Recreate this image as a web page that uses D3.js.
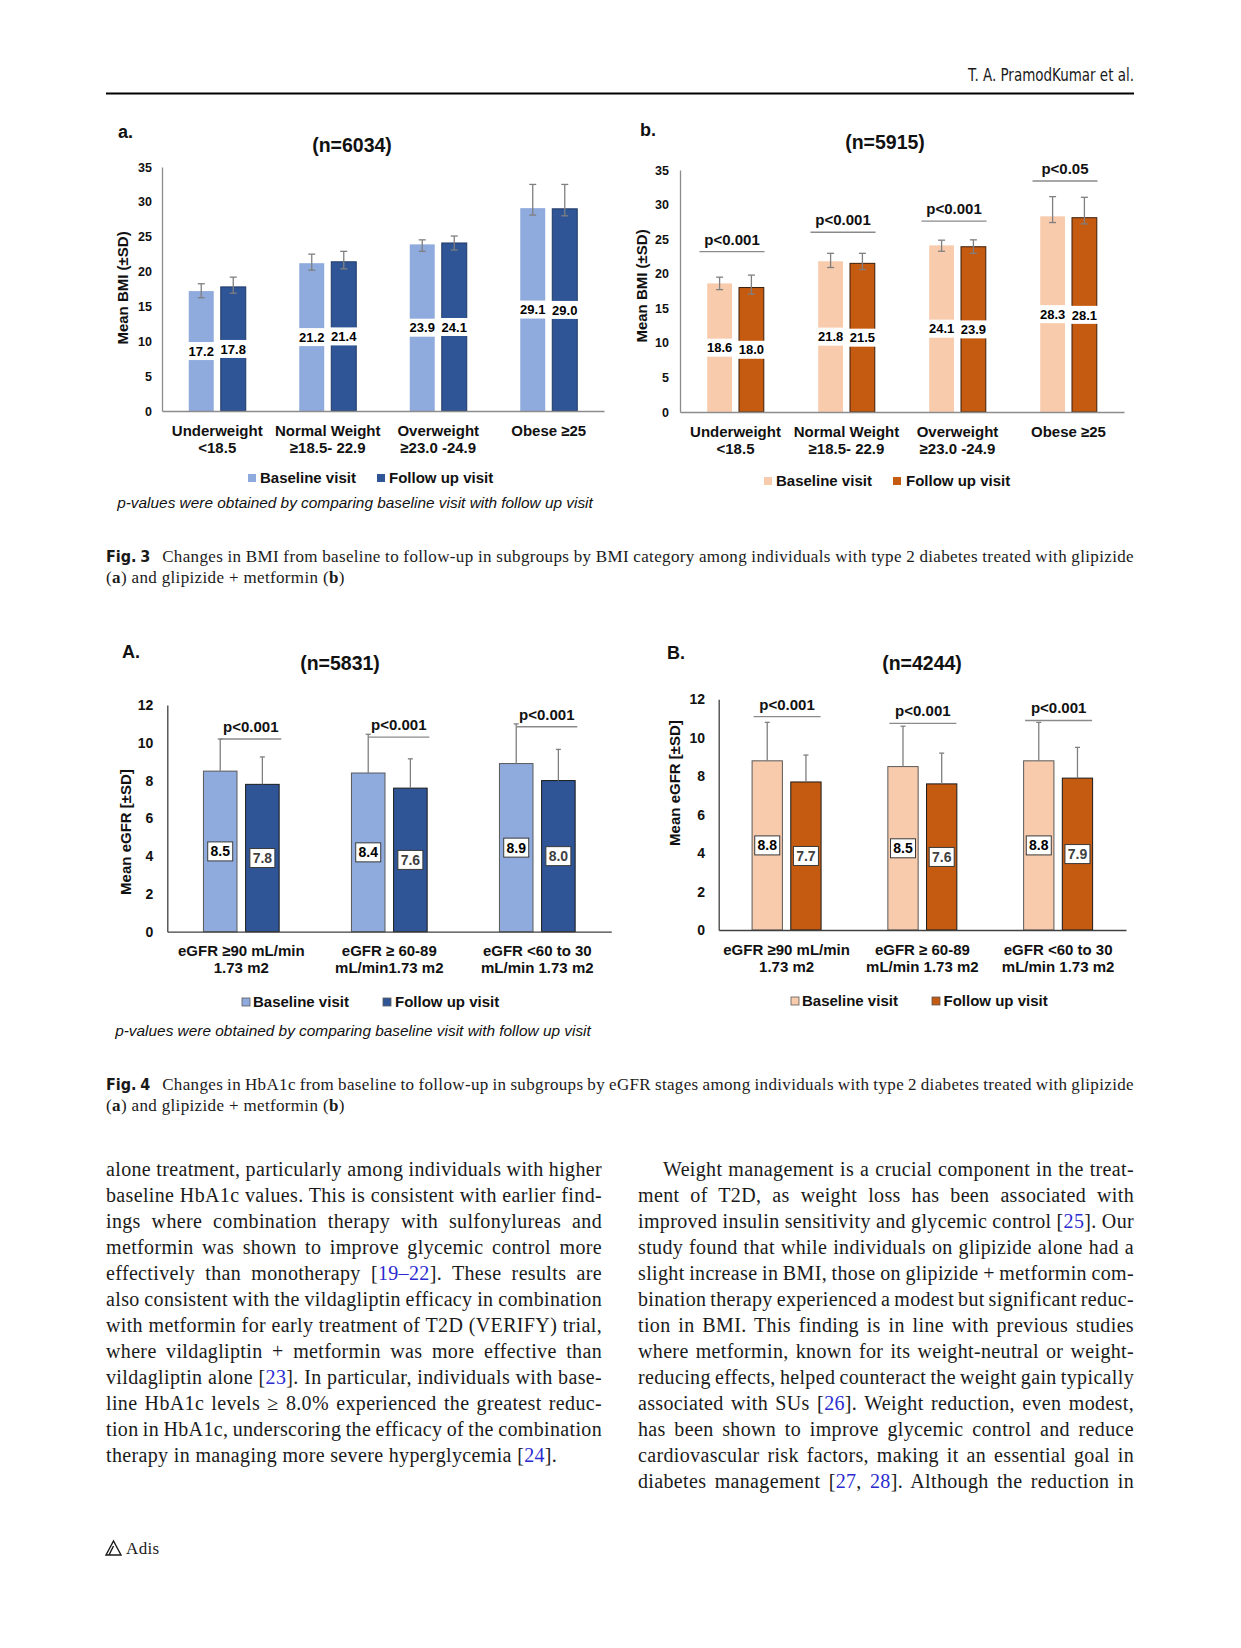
<!DOCTYPE html>
<html>
<head>
<meta charset="utf-8">
<script src="https://cdnjs.cloudflare.com/ajax/libs/d3/7.8.5/d3.min.js"></script>
<style>
  body { margin: 0; background: #fff; }
  #page { position: relative; width: 1241px; height: 1648px; overflow: hidden; background: #fff; }
  #page svg { position: absolute; left: 0; top: 0; }
  .line { position: absolute; white-space: nowrap; font-family: "Liberation Serif", "Times New Roman", serif; color: #1a1a1a; }
  .body { font-size: 20px; line-height: 26px; letter-spacing: 0.35px; }
  .cap { font-size: 17px; line-height: 21px; letter-spacing: 0.35px; }
  .cite { color: #2b2bd0; }
  .fig { font-family: "Liberation Sans Narrow", "DejaVu Sans Condensed", sans-serif; font-weight: bold; font-size: 16px; margin-right: 12px; letter-spacing: 0; }
</style>
</head>
<body>
<div id="page"></div>
<script>
// ---------- Fig. 3 : BMI by BMI category ----------
const bmiCats = [["Underweight", "<18.5"], ["Normal Weight", "≥18.5- 22.9"], ["Overweight", "≥23.0 -24.9"], ["Obese ≥25"]];
const bmiTicks = [0, 5, 10, 15, 20, 25, 30, 35];

// (a) glipizide
const bmiGlipBase = [17.2, 21.2, 23.9, 29.1];
const bmiGlipFollow = [17.8, 21.4, 24.1, 29.0];
const bmiGlipBaseUp = [1.05, 1.3, 0.65, 3.4];
const bmiGlipBaseDown = [0.95, 1.0, 1.0, 1.0];
const bmiGlipFollowUp = [1.4, 1.5, 1.0, 3.5];
const bmiGlipFollowDown = [0.9, 1.0, 1.0, 1.0];

// (b) glipizide + metformin
const bmiCombBase = [18.6, 21.8, 24.1, 28.3];
const bmiCombFollow = [18.0, 21.5, 23.9, 28.1];
const bmiCombBaseUp = [0.9, 1.15, 0.75, 2.85];
const bmiCombBaseDown = [0.9, 0.9, 0.85, 0.9];
const bmiCombFollowUp = [1.8, 1.45, 1.0, 2.95];
const bmiCombFollowDown = [0.95, 0.9, 0.95, 0.9];
const bmiCombP = ["p<0.001", "p<0.001", "p<0.001", "p<0.05"];
const bmiCombPLevel = [23.2, 26.0, 27.6, 33.4];

// ---------- Fig. 4 : HbA1c by eGFR stage ----------
const egfrCatsA = [["eGFR ≥90 mL/min", "1.73 m2"], ["eGFR ≥ 60-89", "mL/min1.73 m2"], ["eGFR <60 to 30", "mL/min 1.73 m2"]];
const egfrCatsB = [["eGFR ≥90 mL/min", "1.73 m2"], ["eGFR ≥ 60-89", "mL/min 1.73 m2"], ["eGFR <60 to 30", "mL/min 1.73 m2"]];
const egfrTicks = [0, 2, 4, 6, 8, 10, 12];

// (A) glipizide
const egfrGlipBase = [8.5, 8.4, 8.9];
const egfrGlipFollow = [7.8, 7.6, 8.0];
const egfrGlipBaseSd = [1.7, 2.05, 2.1];
const egfrGlipFollowSd = [1.45, 1.55, 1.65];
const egfrGlipP = ["p<0.001", "p<0.001", "p<0.001"];
const egfrGlipPLevel = [10.2, 10.3, 10.85];

// (B) glipizide + metformin
const egfrCombBase = [8.8, 8.5, 8.8];
const egfrCombFollow = [7.7, 7.6, 7.9];
const egfrCombBaseSd = [2.0, 2.1, 2.0];
const egfrCombFollowSd = [1.4, 1.6, 1.6];
const egfrCombP = ["p<0.001", "p<0.001", "p<0.001"];
const egfrCombPLevel = [11.1, 10.75, 10.9];

const seriesNames = ["Baseline visit", "Follow up visit"];
const noteText = "p-values were obtained by comparing baseline visit with follow up visit";

// body text
const leftLines = [
  "alone treatment, particularly among individuals with higher",
  "baseline HbA1c values. This is consistent with earlier find-",
  "ings where combination therapy with sulfonylureas and",
  "metformin was shown to improve glycemic control more",
  "effectively than monotherapy [{19–22}]. These results are",
  "also consistent with the vildagliptin efficacy in combination",
  "with metformin for early treatment of T2D (VERIFY) trial,",
  "where vildagliptin + metformin was more effective than",
  "vildagliptin alone [{23}]. In particular, individuals with base-",
  "line HbA1c levels ≥ 8.0% experienced the greatest reduc-",
  "tion in HbA1c, underscoring the efficacy of the combination",
  "therapy in managing more severe hyperglycemia [{24}]."
];
const rightLines = [
  "Weight management is a crucial component in the treat-",
  "ment of T2D, as weight loss has been associated with",
  "improved insulin sensitivity and glycemic control [{25}]. Our",
  "study found that while individuals on glipizide alone had a",
  "slight increase in BMI, those on glipizide + metformin com-",
  "bination therapy experienced a modest but significant reduc-",
  "tion in BMI. This finding is in line with previous studies",
  "where metformin, known for its weight-neutral or weight-",
  "reducing effects, helped counteract the weight gain typically",
  "associated with SUs [{26}]. Weight reduction, even modest,",
  "has been shown to improve glycemic control and reduce",
  "cardiovascular risk factors, making it an essential goal in",
  "diabetes management [{27}, {28}]. Although the reduction in"
];

const W = 1241, H = 1648;
const FONT = "'Liberation Sans', Arial, Helvetica, sans-serif";

const page = d3.select("#page");
const svg = page.append("svg").attr("width", W).attr("height", H);

function drawChart(c) {
  const g = svg.append("g").attr("font-family", FONT);
  const x = d3.scaleBand().domain(d3.range(c.cats.length)).range([c.x0, c.x1]);
  const y = d3.scaleLinear().domain([0, c.yMax]).range([c.y0, c.yTop]);
  const sub = d3.scaleBand().domain([0, 1]).range([-c.groupW / 2, c.groupW / 2]).paddingInner(c.padInner);
  const cx = i => x(i) + x.bandwidth() / 2;
  const bw = sub.bandwidth();

  const series = [
    { k: 0, vals: c.base, up: c.baseUp, down: c.baseDown },
    { k: 1, vals: c.follow, up: c.followUp, down: c.followDown }
  ];

  // bars
  series.forEach(s => {
    g.selectAll(null).data(s.vals).join("rect")
      .attr("x", (d, i) => cx(i) + sub(s.k))
      .attr("y", d => y(d))
      .attr("width", bw)
      .attr("height", d => y(0) - y(d))
      .attr("fill", c.colors[s.k])
      .attr("stroke", c.strokes[s.k] || "none")
      .attr("stroke-width", 1);
  });

  // error bars
  series.forEach(s => {
    s.vals.forEach((v, i) => {
      const xm = cx(i) + sub(s.k) + bw / 2;
      const top = y(v + s.up[i]);
      const dn = s.down ? s.down[i] : 0;
      const bot = y(v - dn);
      g.append("line").attr("x1", xm).attr("x2", xm).attr("y1", top).attr("y2", bot)
        .attr("stroke", "#7f7f7f").attr("stroke-width", 1.3);
      g.append("line").attr("x1", xm - c.capW / 2).attr("x2", xm + c.capW / 2).attr("y1", top).attr("y2", top)
        .attr("stroke", "#7f7f7f").attr("stroke-width", 1.3);
      if (dn > 0) {
        g.append("line").attr("x1", xm - c.capW / 2).attr("x2", xm + c.capW / 2).attr("y1", bot).attr("y2", bot)
          .attr("stroke", "#7f7f7f").attr("stroke-width", 1.3);
      }
    });
  });

  // value labels in the middle of each bar
  series.forEach(s => {
    s.vals.forEach((v, i) => {
      const xm = cx(i) + sub(s.k) + bw / 2;
      const ym = y(v / 2);
      if (c.labelStyle === "gap") {
        g.append("rect").attr("x", xm - bw / 2 - 2).attr("y", ym - 9).attr("width", bw + 4).attr("height", 18)
          .attr("fill", "#fff");
      } else {
        g.append("rect").attr("x", xm - 12.5).attr("y", ym - 9.5).attr("width", 25).attr("height", 19)
          .attr("fill", "#fff").attr("stroke", "#3a3a3a").attr("stroke-width", 1);
      }
      g.append("text").attr("x", xm).attr("y", ym).attr("dy", "0.36em")
        .attr("text-anchor", "middle").attr("font-weight", "bold").attr("font-size", c.labelFont)
        .attr("fill", c.labelColors[s.k]).text(v.toFixed(1));
    });
  });

  // p-value brackets
  if (c.pLabels) {
    c.pLabels.forEach((p, i) => {
      const ly = y(c.pLevels[i]);
      const xa = cx(i) + c.pSpan[0], xb = cx(i) + c.pSpan[1];
      g.append("line").attr("x1", xa).attr("x2", xb).attr("y1", ly).attr("y2", ly)
        .attr("stroke", "#8a8a8a").attr("stroke-width", 1.4);
      g.append("text").attr("x", (xa + xb) / 2).attr("y", ly - 7)
        .attr("text-anchor", "middle").attr("font-weight", "bold").attr("font-size", 15)
        .attr("fill", "#111").text(p);
    });
  }

  // axes
  const ya = g.append("g").attr("transform", `translate(${c.x0},0)`)
    .call(d3.axisLeft(y).tickValues(c.ticks).tickSize(0).tickPadding(c.tickPad));
  ya.attr("font-family", FONT).attr("font-size", c.tickFont).attr("font-weight", "bold");
  ya.select(".domain").attr("stroke", c.axisColor).attr("stroke-width", 1.3);
  ya.selectAll("text").attr("fill", "#111");

  const xa = g.append("g").attr("transform", `translate(0,${c.y0})`)
    .call(d3.axisBottom(x).tickSize(0).tickFormat(() => ""));
  xa.select(".domain").attr("stroke", c.axisColor).attr("stroke-width", 1.3);

  // category labels
  c.cats.forEach((lines, i) => {
    const t = g.append("text").attr("text-anchor", "middle").attr("font-weight", "bold")
      .attr("font-size", c.xFont).attr("fill", "#111");
    lines.forEach((ln, j) => {
      t.append("tspan").attr("x", cx(i)).attr("y", c.y0 + 24.5 + 17 * j).text(ln);
    });
  });

  // y title
  g.append("text").attr("transform", `translate(${c.yTitle.x},${c.yTitle.y}) rotate(-90)`)
    .attr("dy", "0.35em").attr("text-anchor", "middle").attr("font-weight", "bold")
    .attr("font-size", c.yTitle.size).attr("fill", "#111").text(c.yTitle.t);

  // panel letter and n title
  g.append("text").attr("x", c.letter.x).attr("y", c.letter.y).attr("font-weight", "bold")
    .attr("font-size", 18).attr("fill", "#111").text(c.letter.t);
  g.append("text").attr("x", c.title.x).attr("y", c.title.y).attr("text-anchor", "middle")
    .attr("font-weight", "bold").attr("font-size", 19.5).attr("fill", "#111").text(c.title.t);

  // legend
  c.legend.items.forEach((it, k) => {
    g.append("rect").attr("x", it.sx).attr("y", c.legend.y - 4).attr("width", 8).attr("height", 8)
      .attr("fill", c.colors[k]).attr("stroke", c.legend.stroke || "none").attr("stroke-width", 0.8);
    g.append("text").attr("x", it.tx).attr("y", c.legend.y).attr("dy", "0.35em")
      .attr("font-weight", "bold").attr("font-size", 15).attr("fill", "#111").text(seriesNames[k]);
  });

  if (c.note) {
    g.append("text").attr("x", c.note.x).attr("y", c.note.y).attr("text-anchor", "middle")
      .attr("font-style", "italic").attr("font-size", 15.4).attr("fill", "#111").text(noteText);
  }
}

// (a)
drawChart({
  x0: 162, x1: 604, y0: 411, yTop: 167, yMax: 35, ticks: bmiTicks, tickFont: 12.5, tickPad: 10,
  cats: bmiCats, base: bmiGlipBase, follow: bmiGlipFollow,
  baseUp: bmiGlipBaseUp, baseDown: bmiGlipBaseDown, followUp: bmiGlipFollowUp, followDown: bmiGlipFollowDown,
  groupW: 57, padInner: 0.22, colors: ["#8FAADC", "#2F5597"], strokes: [null, "#1F3864"],
  axisColor: "#8c8c8c", labelStyle: "gap", labelFont: 13, labelColors: ["#000", "#000"], capW: 7,
  xFont: 15, letter: { t: "a.", x: 118, y: 138 }, title: { t: "(n=6034)", x: 352, y: 152 },
  yTitle: { t: "Mean BMI (±SD)", x: 123, y: 288, size: 15 },
  legend: { y: 478, items: [{ sx: 248, tx: 260 }, { sx: 377, tx: 389 }] },
  note: { x: 355, y: 508 }
});

// (b)
drawChart({
  x0: 680, x1: 1124, y0: 412, yTop: 170, yMax: 35, ticks: bmiTicks, tickFont: 12.5, tickPad: 11,
  cats: bmiCats, base: bmiCombBase, follow: bmiCombFollow,
  baseUp: bmiCombBaseUp, baseDown: bmiCombBaseDown, followUp: bmiCombFollowUp, followDown: bmiCombFollowDown,
  groupW: 56.6, padInner: 0.22, colors: ["#F8CBAD", "#C55A11"], strokes: [null, "#3b1f0a"],
  axisColor: "#8c8c8c", labelStyle: "gap", labelFont: 13, labelColors: ["#000", "#000"], capW: 7,
  pLabels: bmiCombP, pLevels: bmiCombPLevel, pSpan: [-36, 29],
  xFont: 15, letter: { t: "b.", x: 640, y: 136 }, title: { t: "(n=5915)", x: 885, y: 149 },
  yTitle: { t: "Mean BMI (±SD)", x: 641.5, y: 286, size: 15 },
  legend: { y: 481, items: [{ sx: 764, tx: 776 }, { sx: 893, tx: 906 }] },
  note: null
});

// (A)
drawChart({
  x0: 167.3, x1: 611.3, y0: 931.7, yTop: 705, yMax: 12, ticks: egfrTicks, tickFont: 14, tickPad: 14,
  cats: egfrCatsA, base: egfrGlipBase, follow: egfrGlipFollow,
  baseUp: egfrGlipBaseSd, baseDown: null, followUp: egfrGlipFollowSd, followDown: null,
  groupW: 75.7, padInner: 0.204, colors: ["#8FAADC", "#2F5597"], strokes: ["#5a5a5a", "#1a1a1a"],
  axisColor: "#404040", labelStyle: "box", labelFont: 14, labelColors: ["#000", "#404040"], capW: 5,
  pLabels: egfrGlipP, pLevels: egfrGlipPLevel, pSpan: [-21, 40],
  xFont: 15, letter: { t: "A.", x: 122, y: 658 }, title: { t: "(n=5831)", x: 340, y: 670 },
  yTitle: { t: "Mean eGFR [±SD]", x: 126, y: 832, size: 15 },
  legend: { y: 1002, stroke: "#5a5a5a", items: [{ sx: 242, tx: 253 }, { sx: 383, tx: 395 }] },
  note: { x: 353, y: 1036 }
});

// (B)
drawChart({
  x0: 718.7, x1: 1126, y0: 930, yTop: 699.3, yMax: 12, ticks: egfrTicks, tickFont: 14, tickPad: 13.7,
  cats: egfrCatsB, base: egfrCombBase, follow: egfrCombFollow,
  baseUp: egfrCombBaseSd, baseDown: null, followUp: egfrCombFollowSd, followDown: null,
  groupW: 69, padInner: 0.217, colors: ["#F8CBAD", "#C55A11"], strokes: ["#5a5a5a", "#1a1a1a"],
  axisColor: "#404040", labelStyle: "box", labelFont: 14, labelColors: ["#000", "#404040"], capW: 5,
  pLabels: egfrCombP, pLevels: egfrCombPLevel, pSpan: [-33, 34],
  xFont: 15, letter: { t: "B.", x: 667, y: 659 }, title: { t: "(n=4244)", x: 922, y: 670 },
  yTitle: { t: "Mean eGFR [±SD]", x: 675, y: 783, size: 15 },
  legend: { y: 1001, stroke: "#5a5a5a", items: [{ sx: 791, tx: 802 }, { sx: 932, tx: 943.5 }] },
  note: null
});

// running header
svg.append("text").attr("x", 1134).attr("y", 81).attr("text-anchor", "end")
  .attr("font-family", "'Liberation Sans Narrow', 'DejaVu Sans Condensed', sans-serif")
  .attr("font-size", 17.5).attr("fill", "#1a1a1a")
  .attr("textLength", 166).attr("lengthAdjust", "spacingAndGlyphs")
  .text("T. A. PramodKumar et al.");
svg.append("line").attr("x1", 106).attr("x2", 1134).attr("y1", 93.5).attr("y2", 93.5)
  .attr("stroke", "#000").attr("stroke-width", 2);

// footer
svg.append("path").attr("d", "M106,1555 L113.5,1541 L121,1555 Z M109,1555 L113.5,1546")
  .attr("fill", "none").attr("stroke", "#1a1a1a").attr("stroke-width", 1.4);
page.append("div").attr("class", "line cap").style("left", "126px").style("top", "1538px")
  .style("font-size", "17px").text("Adis");

// text lines, justified by measuring natural width
function markup(s) {
  return s.replace(/\{([^}]*)\}/g, '<span class="cite">$1</span>');
}
function placeLine(cls, html, left, top, width, justify) {
  const d = page.append("div").attr("class", "line " + cls)
    .style("left", left + "px").style("top", top + "px").html(html);
  if (justify) {
    const w = d.node().getBoundingClientRect().width;
    let txt = "";
    d.node().childNodes.forEach(n => { if (!(n.classList && n.classList.contains("fig"))) txt += n.textContent; });
    const spaces = (txt.match(/ /g) || []).length;
    if (spaces) d.style("word-spacing", ((width - w) / spaces) + "px");
  }
}

// captions
placeLine("cap", '<span class="fig">Fig.\u20053</span>Changes in BMI from baseline to follow-up in subgroups by BMI category among individuals with type 2 diabetes treated with glipizide', 106, 546, 1028, true);
placeLine("cap", "(<b>a</b>) and glipizide + metformin (<b>b</b>)", 106, 567, 1028, false);
placeLine("cap", '<span class="fig">Fig.\u20054</span>Changes in HbA1c from baseline to follow-up in subgroups by eGFR stages among individuals with type 2 diabetes treated with glipizide', 106, 1074, 1028, true);
placeLine("cap", "(<b>a</b>) and glipizide + metformin (<b>b</b>)", 106, 1095, 1028, false);

// body columns
leftLines.forEach((ln, i) => {
  placeLine("body", markup(ln), 106, 1156 + i * 26, 496, i < leftLines.length - 1);
});
rightLines.forEach((ln, i) => {
  const indent = i === 0 ? 25 : 0;
  placeLine("body", markup(ln), 638 + indent, 1156 + i * 26, 496 - indent, true);
});
</script>
</body>
</html>
